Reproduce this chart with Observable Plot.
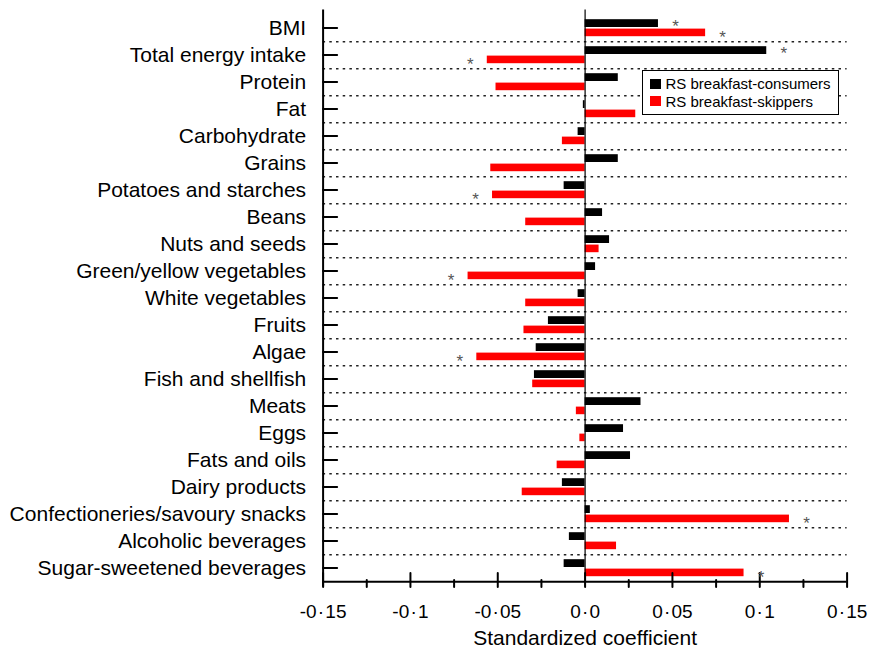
<!DOCTYPE html>
<html>
<head>
<meta charset="utf-8">
<script src="https://cdn.jsdelivr.net/npm/d3@7"></script>
<script src="https://cdn.jsdelivr.net/npm/@observablehq/plot@0.6"></script>
<style>
  body { margin: 0; background: #fff; }
  #wrap { position: relative; width: 871px; height: 654px; font-family: "Liberation Sans", Arial, Helvetica, sans-serif; }
  #legend { position: absolute; left: 642px; top: 70px; width: 197px; height: 45px; box-sizing: border-box; border: 1.5px solid #000; background: #fff; }
  #legend .sw { position: absolute; width: 11px; height: 10px; left: 6.5px; }
  #legend .lb { position: absolute; left: 22.5px; font-size: 15px; line-height: 15px; color: #000; white-space: nowrap; }
</style>
</head>
<body>
<div id="wrap"></div>
<script>
const categories = ["BMI","Total energy intake","Protein","Fat","Carbohydrate","Grains","Potatoes and starches","Beans","Nuts and seeds","Green/yellow vegetables","White vegetables","Fruits","Algae","Fish and shellfish","Meats","Eggs","Fats and oils","Dairy products","Confectioneries/savoury snacks","Alcoholic beverages","Sugar-sweetened beverages"];
const consumers = [0.042, 0.104, 0.019, -0.001, -0.004, 0.019, -0.012, 0.010, 0.014, 0.006, -0.004, -0.021, -0.028, -0.029, 0.032, 0.022, 0.026, -0.013, 0.003, -0.009, -0.012];
const skippers = [0.069, -0.056, -0.051, 0.029, -0.013, -0.054, -0.053, -0.034, 0.008, -0.067, -0.034, -0.035, -0.062, -0.030, -0.005, -0.003, -0.016, -0.036, 0.117, 0.018, 0.091];
const sigConsumers = ["BMI", "Total energy intake"];
const sigSkippers = ["BMI", "Total energy intake", "Potatoes and starches", "Green/yellow vegetables", "Algae", "Confectioneries/savoury snacks", "Sugar-sweetened beverages"];
const seriesNames = ["RS breakfast-consumers", "RS breakfast-skippers"];
const xTickValues = [-0.15, -0.1, -0.05, 0, 0.05, 0.1, 0.15];
const xTickLabels = ["-0·15", "-0·1", "-0·05", "0·0", "0·05", "0·1", "0·15"];
const xMinorTicks = [-0.125, -0.075, -0.025, 0.025, 0.075, 0.125];
const xLabel = "Standardized coefficient";

const rows = categories.map((name, i) => ({name, consumers: consumers[i], skippers: skippers[i]}));
const sigC = rows.filter(d => sigConsumers.includes(d.name));
const sigS = rows.filter(d => sigSkippers.includes(d.name));

const W = 871, H = 654, mT = 9.6, mB = 67.6, mL = 322.6, mR = 24.4;
const half = (H - mT - mB) / categories.length / 2;
const FONT = '"Liberation Sans", Arial, Helvetica, sans-serif';
const tickShape = {draw(ctx, l) { ctx.moveTo(0, 0); ctx.lineTo(0, -l); }};
const star = "#555";

const chart = Plot.plot({
  width: W, height: H,
  marginTop: mT, marginBottom: mB, marginLeft: mL, marginRight: mR,
  style: {fontFamily: FONT, background: "#fff", color: "#000", overflow: "visible"},
  x: {domain: [-0.15, 0.15], label: null},
  y: {type: "band", domain: categories, padding: 0, label: null},
  marks: [
    Plot.ruleY(categories.slice(0, -1), {y: d => d, dy: half, stroke: "#222", strokeWidth: 1.3, strokeDasharray: "2.5,4.2"}),
    Plot.barX(rows, {x: "consumers", y: "name", fill: "#000", insetTop: 5.2, insetBottom: 14}),
    Plot.barX(rows, {x: "skippers", y: "name", fill: "#ff0000", insetTop: 14.6, insetBottom: 4.8}),
    Plot.ruleX([0], {stroke: "#000", strokeWidth: 1.2}),
    Plot.ruleX([-0.15], {stroke: "#000", strokeWidth: 2}),
    Plot.ruleY([categories[categories.length - 1]], {y: d => d, dy: half, stroke: "#000", strokeWidth: 2}),
    Plot.vector(xTickValues, {x: d => d, frameAnchor: "bottom", length: 14, anchor: "start", shape: tickShape, stroke: "#000", strokeWidth: 2}),
    Plot.vector(xMinorTicks, {x: d => d, frameAnchor: "bottom", length: 7, anchor: "start", shape: tickShape, stroke: "#000", strokeWidth: 2}),
    Plot.vector(categories, {y: d => d, frameAnchor: "left", length: 14, rotate: 90, anchor: "start", shape: tickShape, stroke: "#000", strokeWidth: 2}),
    Plot.axisY({tickSize: 0, tickPadding: 17, fontSize: 21, label: null}),
    Plot.axisX({ticks: xTickValues, tickSize: 0, tickPadding: 17.9, fontSize: 19, label: null,
      tickFormat: d => xTickLabels[xTickValues.indexOf(d)]}),
    Plot.text([xLabel], {text: d => d, frameAnchor: "bottom", dy: 57.7, fontSize: 21}),
    Plot.text(sigC.filter(d => d.consumers >= 0), {x: "consumers", y: "name", text: () => "*", dx: 17, dy: -1.8, fontSize: 17, fill: star}),
    Plot.text(sigC.filter(d => d.consumers < 0), {x: "consumers", y: "name", text: () => "*", dx: -17, dy: -1.8, fontSize: 17, fill: star}),
    Plot.text(sigS.filter(d => d.skippers >= 0), {x: "skippers", y: "name", text: () => "*", dx: 17, dy: 9.5, fontSize: 17, fill: star}),
    Plot.text(sigS.filter(d => d.skippers < 0), {x: "skippers", y: "name", text: () => "*", dx: -17, dy: 9.5, fontSize: 17, fill: star})
  ]
});

// slightly wider spacing around the decimal middle dot, as in the original typesetting
d3.select(chart).selectAll('g[aria-label="x-axis tick label"] text').each(function () {
  const s = this.textContent;
  const k = s.indexOf("·");
  if (k < 0) return;
  const t = d3.select(this);
  t.text(null);
  t.append("tspan").text(s.slice(0, k));
  t.append("tspan").attr("dx", 1.2).text("·");
  t.append("tspan").attr("dx", 1.2).text(s.slice(k + 1));
});

const wrap = document.getElementById("wrap");
wrap.appendChild(chart);
const legend = document.createElement("div");
legend.id = "legend";
const colors = ["#000", "#ff0000"];
const swTops = [7.5, 25.2];
const lbTops = [5, 23];
seriesNames.forEach((name, i) => {
  const sw = document.createElement("div");
  sw.className = "sw"; sw.style.top = swTops[i] + "px"; sw.style.background = colors[i];
  const lb = document.createElement("div");
  lb.className = "lb"; lb.style.top = lbTops[i] + "px"; lb.textContent = name;
  legend.appendChild(sw); legend.appendChild(lb);
});
wrap.appendChild(legend);
</script>
</body>
</html>
